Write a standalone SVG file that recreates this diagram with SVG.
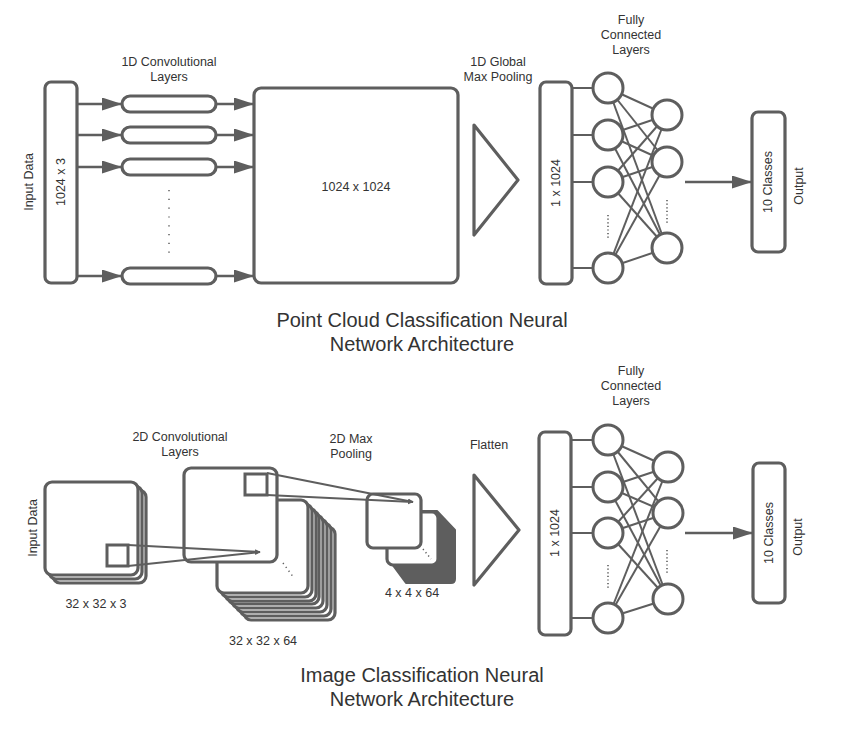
<svg xmlns="http://www.w3.org/2000/svg" width="851" height="735" viewBox="0 0 851 735">
<style>
  .box{fill:#fff;stroke:#5e5e5e;stroke-width:3.2}
  .ln{stroke:#5e5e5e;stroke-width:2.4;fill:none}
  .thin{stroke:#5e5e5e;stroke-width:2;fill:none}
  .sq{fill:none;stroke:#5e5e5e;stroke-width:3}
  .neuron{fill:#fff;stroke:#5e5e5e;stroke-width:3}
  .dots{stroke:#5e5e5e;stroke-width:1.5;fill:none;stroke-dasharray:1.2 7.6}
  .fdots{stroke:#5e5e5e;stroke-width:1.6;fill:none;stroke-dasharray:1.2 2.4}
  .t{font-family:"Liberation Sans",Arial,sans-serif;font-size:12.5px;fill:#333;text-anchor:middle}
  .title{font-family:"Liberation Sans",Arial,sans-serif;font-size:20px;fill:#333;text-anchor:middle}
  .tri{fill:#fff;stroke:#5e5e5e;stroke-width:3.2;stroke-linejoin:round}
</style>
<defs>
  <marker id="ah" markerWidth="20" markerHeight="13" refX="19" refY="6.5" orient="auto" markerUnits="userSpaceOnUse">
    <path d="M0,0 L20,6.5 L0,13 z" fill="#5e5e5e"/>
  </marker>
  <marker id="sah" markerWidth="6" markerHeight="6" refX="5" refY="3" orient="auto" markerUnits="userSpaceOnUse">
    <path d="M0,0.5 L5.5,3 L0,5.5 z" fill="#5e5e5e"/>
  </marker>
</defs>

<rect width="851" height="735" fill="#fff"/>

<!-- ============ TOP: Point cloud ============ -->
<g id="connectors-top">
  <line class="ln" x1="78" y1="104" x2="121" y2="104" marker-end="url(#ah)"/>
  <line class="ln" x1="78" y1="135" x2="121" y2="135" marker-end="url(#ah)"/>
  <line class="ln" x1="78" y1="167" x2="121" y2="167" marker-end="url(#ah)"/>
  <line class="ln" x1="78" y1="276" x2="121" y2="276" marker-end="url(#ah)"/>
  <line class="ln" x1="216" y1="104" x2="253" y2="104" marker-end="url(#ah)"/>
  <line class="ln" x1="216" y1="135" x2="253" y2="135" marker-end="url(#ah)"/>
  <line class="ln" x1="216" y1="167" x2="253" y2="167" marker-end="url(#ah)"/>
  <line class="ln" x1="216" y1="276" x2="253" y2="276" marker-end="url(#ah)"/>
  <!-- box to layer 1 -->
  <line class="thin" x1="572" y1="88" x2="608" y2="88"/>
  <line class="thin" x1="572" y1="135" x2="608" y2="135"/>
  <line class="thin" x1="572" y1="182" x2="608" y2="182"/>
  <line class="thin" x1="572" y1="268" x2="608" y2="268"/>
  <!-- layer1 to layer2 -->
  <line class="thin" x1="608" y1="88" x2="667" y2="115"/>
  <line class="thin" x1="608" y1="88" x2="667" y2="162"/>
  <line class="thin" x1="608" y1="88" x2="667" y2="248"/>
  <line class="thin" x1="608" y1="135" x2="667" y2="115"/>
  <line class="thin" x1="608" y1="135" x2="667" y2="162"/>
  <line class="thin" x1="608" y1="135" x2="667" y2="248"/>
  <line class="thin" x1="608" y1="182" x2="667" y2="115"/>
  <line class="thin" x1="608" y1="182" x2="667" y2="162"/>
  <line class="thin" x1="608" y1="182" x2="667" y2="248"/>
  <line class="thin" x1="608" y1="268" x2="667" y2="115"/>
  <line class="thin" x1="608" y1="268" x2="667" y2="162"/>
  <line class="thin" x1="608" y1="268" x2="667" y2="248"/>
  <line class="ln" x1="685" y1="182" x2="751" y2="182" marker-end="url(#ah)"/>
</g>

<g id="input-top">
  <rect class="box" x="45" y="82" width="32" height="201" rx="6"/>
  <text class="t" transform="translate(61,182) rotate(-90)" dy="0.35em">1024 x 3</text>
  <text class="t" transform="translate(29,182) rotate(-90)" dy="0.35em">Input Data</text>
</g>

<g id="conv1d">
  <text class="t" x="169" y="66">1D Convolutional</text>
  <text class="t" x="169" y="81">Layers</text>
  <rect class="box" x="122" y="96" width="94" height="16" rx="8"/>
  <rect class="box" x="122" y="127" width="94" height="16" rx="8"/>
  <rect class="box" x="122" y="159" width="94" height="16" rx="8"/>
  <rect class="box" x="122" y="268" width="94" height="16" rx="8"/>
  <line class="dots" x1="169" y1="190" x2="169" y2="254"/>
</g>

<g id="feature-top">
  <rect class="box" x="254" y="88" width="204" height="195" rx="7"/>
  <text class="t" x="356" y="191">1024 x 1024</text>
</g>

<g id="maxpool-top">
  <text class="t" x="498" y="66">1D Global</text>
  <text class="t" x="498" y="81">Max Pooling</text>
  <path class="tri" d="M474,125 L518,180 L474,235 Z"/>
</g>

<g id="vector-top">
  <rect class="box" x="540" y="82" width="32" height="202" rx="6"/>
  <text class="t" transform="translate(556,183) rotate(-90)" dy="0.35em">1 x 1024</text>
</g>

<g id="fc-top">
  <text class="t" x="631" y="24">Fully</text>
  <text class="t" x="631" y="39">Connected</text>
  <text class="t" x="631" y="54">Layers</text>
  <circle class="neuron" cx="608" cy="88" r="15"/>
  <circle class="neuron" cx="608" cy="135" r="15"/>
  <circle class="neuron" cx="608" cy="182" r="15"/>
  <circle class="neuron" cx="608" cy="268" r="15"/>
  <circle class="neuron" cx="667" cy="115" r="15"/>
  <circle class="neuron" cx="667" cy="162" r="15"/>
  <circle class="neuron" cx="667" cy="248" r="15"/>
  <line class="fdots" x1="608" y1="215" x2="608" y2="238"/>
  <line class="fdots" x1="667" y1="200" x2="667" y2="223"/>
</g>

<g id="output-top">
  <rect class="box" x="752" y="112" width="33" height="140" rx="6"/>
  <text class="t" transform="translate(768,182) rotate(-90)" dy="0.35em">10 Classes</text>
  <text class="t" transform="translate(799,186) rotate(-90)" dy="0.35em">Output</text>
</g>

<g id="title-top">
  <text class="title" x="422" y="327">Point Cloud Classification Neural</text>
  <text class="title" x="422" y="351">Network Architecture</text>
</g>

<!-- ============ BOTTOM: Image ============ -->
<g id="input-bottom">
  <rect class="box" x="53" y="490" width="93" height="93" rx="7"/>
  <rect class="box" x="49" y="486" width="93" height="93" rx="7"/>
  <rect class="box" x="45" y="482" width="93" height="93" rx="7"/>
  <rect class="sq" x="107" y="545" width="21" height="21"/>
  <text class="t" transform="translate(33,528) rotate(-90)" dy="0.35em">Input Data</text>
  <text class="t" x="96" y="608">32 x 32 x 3</text>
</g>

<g id="conv2d">
  <text class="t" x="180" y="441">2D Convolutional</text>
  <text class="t" x="180" y="456">Layers</text>
  <rect class="box" x="244" y="527" width="91" height="93" rx="7"/>
  <rect class="box" x="240" y="523" width="91" height="93" rx="7"/>
  <rect class="box" x="236" y="519" width="91" height="93" rx="7"/>
  <rect class="box" x="232" y="515" width="91" height="93" rx="7"/>
  <rect class="box" x="228" y="511" width="91" height="93" rx="7"/>
  <rect class="box" x="225" y="508" width="91" height="93" rx="7"/>
  <rect class="box" x="221" y="504" width="91" height="93" rx="7"/>
  <rect class="box" x="217" y="500" width="91" height="93" rx="7"/>
  <line class="dots" x1="283" y1="563" x2="294" y2="578" style="stroke-dasharray:1.2 3.6"/>
  <rect class="box" x="184" y="468" width="93" height="94" rx="7"/>
  <rect class="sq" x="245" y="474" width="22" height="21"/>
  <text class="t" x="263" y="645">32 x 32 x 64</text>
</g>

<g id="pool2d">
  <text class="t" x="351" y="443">2D Max</text>
  <text class="t" x="351" y="458">Pooling</text>
  <path d="M389,560 L406,583 L451,583 Q455,583 455,579 L455,530 L437,511 L392,511 Q388,511 388,515 Z" fill="#5e5e5e" stroke="#5e5e5e" stroke-width="2" stroke-linejoin="round"/>
  <rect class="box" x="387" y="512" width="51" height="53" rx="6"/>
  <line class="dots" x1="423" y1="549" x2="431" y2="559" style="stroke-dasharray:1.2 3"/>
  <rect class="box" x="367" y="494" width="54" height="54" rx="6"/>
  <text class="t" x="412" y="597">4 x 4 x 64</text>
</g>

<g id="connectors-bottom">
  <line class="thin" x1="128" y1="545" x2="260" y2="552" marker-end="url(#sah)"/>
  <line class="thin" x1="128" y1="566" x2="260" y2="552" marker-end="url(#sah)"/>
  <line class="thin" x1="267" y1="473" x2="413" y2="502" marker-end="url(#sah)"/>
  <line class="thin" x1="267" y1="495" x2="413" y2="502" marker-end="url(#sah)"/>
  <line class="thin" x1="571" y1="440" x2="608" y2="440"/>
  <line class="thin" x1="571" y1="487" x2="608" y2="487"/>
  <line class="thin" x1="571" y1="533" x2="608" y2="533"/>
  <line class="thin" x1="571" y1="618" x2="608" y2="618"/>
  <line class="thin" x1="608" y1="440" x2="668" y2="467"/>
  <line class="thin" x1="608" y1="440" x2="668" y2="513"/>
  <line class="thin" x1="608" y1="440" x2="668" y2="599"/>
  <line class="thin" x1="608" y1="487" x2="668" y2="467"/>
  <line class="thin" x1="608" y1="487" x2="668" y2="513"/>
  <line class="thin" x1="608" y1="487" x2="668" y2="599"/>
  <line class="thin" x1="608" y1="533" x2="668" y2="467"/>
  <line class="thin" x1="608" y1="533" x2="668" y2="513"/>
  <line class="thin" x1="608" y1="533" x2="668" y2="599"/>
  <line class="thin" x1="608" y1="618" x2="668" y2="467"/>
  <line class="thin" x1="608" y1="618" x2="668" y2="513"/>
  <line class="thin" x1="608" y1="618" x2="668" y2="599"/>
  <line class="ln" x1="685" y1="533" x2="752" y2="533" marker-end="url(#ah)"/>
</g>

<g id="flatten">
  <text class="t" x="489" y="449">Flatten</text>
  <path class="tri" d="M474,475 L519,530 L474,585 Z"/>
</g>

<g id="vector-bottom">
  <rect class="box" x="539" y="432" width="32" height="203" rx="6"/>
  <text class="t" transform="translate(555,533) rotate(-90)" dy="0.35em">1 x 1024</text>
</g>

<g id="fc-bottom">
  <text class="t" x="631" y="375">Fully</text>
  <text class="t" x="631" y="390">Connected</text>
  <text class="t" x="631" y="405">Layers</text>
  <circle class="neuron" cx="608" cy="440" r="15"/>
  <circle class="neuron" cx="608" cy="487" r="15"/>
  <circle class="neuron" cx="608" cy="533" r="15"/>
  <circle class="neuron" cx="608" cy="618" r="15"/>
  <circle class="neuron" cx="668" cy="467" r="15"/>
  <circle class="neuron" cx="668" cy="513" r="15"/>
  <circle class="neuron" cx="668" cy="599" r="15"/>
  <line class="fdots" x1="608" y1="565" x2="608" y2="589"/>
  <line class="fdots" x1="667" y1="550" x2="667" y2="573"/>
</g>

<g id="output-bottom">
  <rect class="box" x="753" y="463" width="32" height="140" rx="6"/>
  <text class="t" transform="translate(769,533) rotate(-90)" dy="0.35em">10 Classes</text>
  <text class="t" transform="translate(798,537) rotate(-90)" dy="0.35em">Output</text>
</g>

<g id="title-bottom">
  <text class="title" x="422" y="682">Image Classification Neural</text>
  <text class="title" x="422" y="706">Network Architecture</text>
</g>
</svg>
